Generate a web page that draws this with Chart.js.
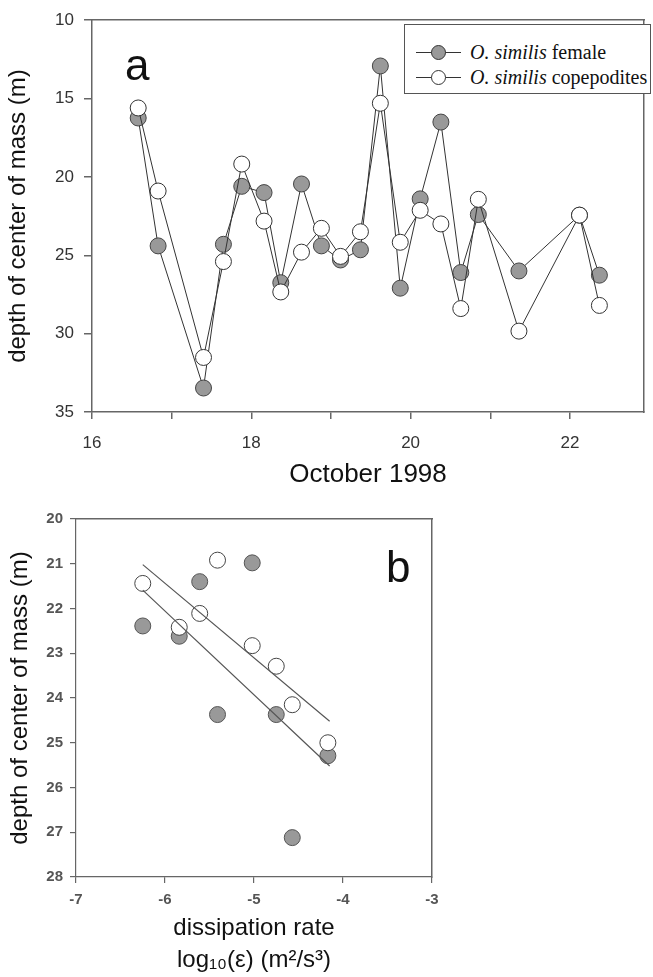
<!DOCTYPE html>
<html>
<head>
<meta charset="utf-8">
<script src="https://cdn.jsdelivr.net/npm/chart.js@4.4.0/dist/chart.umd.min.js"></script>
<style>
  body { margin: 0; background: #fff; width: 653px; height: 977px; position: relative; overflow: hidden;
         font-family: "Liberation Sans", Arial, sans-serif; }
  #wrapA { position: absolute; left: 0; top: 0; width: 653px; height: 500px; }
  #wrapB { position: absolute; left: 0; top: 500px; width: 653px; height: 477px; }
  .panel { position: absolute; font-size: 44px; line-height: 44px; color: #111; }
  #legend { position: absolute; left: 404px; top: 24px; width: 245px; height: 68px; border: 1.5px solid #555;
            background: #fff; font-family: "Liberation Serif", "Times New Roman", serif; font-size: 20px; color: #111; }
  .item { position: absolute; left: 0; width: 100%; height: 20px; }
  .ln { position: absolute; left: 11px; top: 9.5px; width: 45px; height: 1px; background: #333; }
  .dot { position: absolute; left: 26px; top: 2.5px; width: 13px; height: 13px; border-radius: 50%; border: 1px solid #333; }
  .txt { position: absolute; left: 65px; top: -2px; line-height: 24px; white-space: nowrap; }
</style>
</head>
<body>
<div id="wrapA"><canvas id="chartA" width="653" height="500"></canvas></div>
<div id="wrapB"><canvas id="chartB" width="653" height="477"></canvas></div>

<div class="panel" style="left:125px; top:43px;">a</div>
<div class="panel" style="left:386px; top:545px;">b</div>

<div id="legend">
  <div class="item" style="top:17px;"><span class="ln"></span><span class="dot" style="background:#999"></span><span class="txt"><i>O. similis</i> female</span></div>
  <div class="item" style="top:42px;"><span class="ln"></span><span class="dot" style="background:#fff"></span><span class="txt"><i>O. similis</i> copepodites</span></div>
</div>

<script>
// panel a: sampling times (day of October 1998) and depth of center of mass (m)
const days = [16.58, 16.83, 17.40, 17.65, 17.88, 18.16, 18.37, 18.63, 18.88, 19.12,
              19.37, 19.62, 19.87, 20.12, 20.38, 20.63, 20.85, 21.36, 22.12, 22.37];
const femaleDepth = [16.24, 24.4, 33.47, 24.3, 20.6, 21.0, 26.75, 20.45, 24.4, 25.3,
                     24.65, 12.92, 27.1, 21.4, 16.5, 26.1, 22.4, 26.0, 22.44, 26.27];
const copeDepth = [15.6, 20.9, 31.52, 25.4, 19.18, 22.82, 27.34, 24.8, 23.28, 25.07,
                   23.5, 15.3, 24.17, 22.13, 23.0, 28.4, 21.43, 29.84, 22.44, 28.2];
const dayTicks = [16, 17, 18, 19, 20, 21, 22];

// panel b: log10 dissipation rate vs depth
const logEps = [-6.25, -5.84, -5.61, -5.41, -5.02, -4.75, -4.57, -4.17];
const femaleB = [22.39, 22.62, 21.40, 24.37, 20.98, 24.37, 27.12, 25.29];
const copeB = [21.44, 22.42, 22.11, 20.92, 22.83, 23.29, 24.15, 25.0];
const fitX = [-6.25, -4.15];
const fitFemale = [21.59, 25.52];
const fitCope = [21.02, 24.52];

const axisCol = '#666';
const textCol = '#333';

function pts(xs, ys) {
  return xs.map((x, i) => ({ x: x, y: ys[i] }));
}

function frameAxis(pos, min, max, reverse) {
  return {
    type: 'linear', position: pos, min: min, max: max, reverse: !!reverse,
    ticks: { display: false }, grid: { display: false },
    border: { color: axisCol, width: 1.5 },
    afterFit: s => { if (pos === 'top') s.height = 0; else s.width = 0; }
  };
}

new Chart(document.getElementById('chartA'), {
  type: 'line',
  data: {
    datasets: [
      { label: 'O. similis copepodites', data: pts(days, copeDepth), order: 1,
        borderColor: '#333', borderWidth: 1, pointRadius: 8, pointBorderWidth: 1,
        pointBackgroundColor: '#fff', pointBorderColor: '#333', tension: 0 },
      { label: 'O. similis female', data: pts(days, femaleDepth), order: 2,
        borderColor: '#333', borderWidth: 1, pointRadius: 8, pointBorderWidth: 1,
        pointBackgroundColor: '#999', pointBorderColor: '#444', tension: 0 }
    ]
  },
  options: {
    responsive: false, animation: false,
    plugins: { legend: { display: false }, tooltip: { enabled: false } },
    layout: { padding: { top: 16, right: 1, left: 0, bottom: 0 } },
    scales: {
      x: {
        type: 'linear', min: 16, max: 22.93,
        afterBuildTicks: s => { s.ticks = dayTicks.map(v => ({ value: v })); },
        afterFit: s => { s.height = 88; },
        ticks: { callback: v => (v % 2 === 0 ? v : ''), font: { size: 17 }, color: textCol, padding: 14, maxRotation: 0, autoSkip: false },
        grid: { drawOnChartArea: false, tickLength: 7, color: axisCol, lineWidth: 1.5 },
        border: { color: axisCol, width: 1.5 },
        title: { display: true, text: 'October 1998', font: { size: 26 }, color: '#111', padding: { top: 0, bottom: 10 } }
      },
      xTop: frameAxis('top', 16, 22.93),
      y: {
        type: 'linear', reverse: true, min: 10, max: 35,
        afterFit: s => { s.width = 92; },
        ticks: { stepSize: 5, font: { size: 17 }, color: textCol, padding: 10 },
        grid: { drawOnChartArea: false, tickLength: 8, color: axisCol, lineWidth: 1.5 },
        border: { color: axisCol, width: 1.5 },
        title: { display: true, text: 'depth of center of mass (m)', font: { size: 24 }, color: '#111', padding: { top: 4, bottom: 0 } }
      },
      yRight: frameAxis('right', 10, 35, true)
    }
  }
});

new Chart(document.getElementById('chartB'), {
  type: 'scatter',
  data: {
    datasets: [
      { type: 'line', data: pts(fitX, fitCope), order: 0, showLine: true, pointRadius: 0,
        borderColor: '#555', borderWidth: 1.2 },
      { type: 'line', data: pts(fitX, fitFemale), order: 0, showLine: true, pointRadius: 0,
        borderColor: '#555', borderWidth: 1.2 },
      { label: 'copepodites', data: pts(logEps, copeB), order: 1, pointRadius: 8, pointBorderWidth: 1,
        pointBackgroundColor: '#fff', pointBorderColor: '#444' },
      { label: 'female', data: pts(logEps, femaleB), order: 2, pointRadius: 8, pointBorderWidth: 1,
        pointBackgroundColor: '#999', pointBorderColor: '#555' }
    ]
  },
  options: {
    responsive: false, animation: false,
    plugins: { legend: { display: false }, tooltip: { enabled: false } },
    layout: { padding: { top: 19, right: 221, left: 0, bottom: 0 } },
    scales: {
      x: {
        type: 'linear', min: -7, max: -3,
        afterFit: s => { s.height = 100; },
        ticks: { stepSize: 1, font: { size: 15, weight: 'bold' }, color: '#555', padding: 8, maxRotation: 0 },
        grid: { drawOnChartArea: false, tickLength: 6, color: axisCol, lineWidth: 1.2 },
        border: { color: axisCol, width: 1.2 },
        title: { display: true, text: ['dissipation rate', 'log\u2081\u2080(\u03b5) (m\u00b2/s\u00b3)'],
                 font: { size: 24, lineHeight: 1.35 }, color: '#111', padding: { top: 0, bottom: 0 } }
      },
      xTop: frameAxis('top', -7, -3),
      y: {
        type: 'linear', reverse: true, min: 20, max: 28,
        afterFit: s => { s.width = 76; },
        ticks: { stepSize: 1, font: { size: 15, weight: 'bold' }, color: '#555', padding: 7 },
        grid: { drawOnChartArea: false, tickLength: 6, color: axisCol, lineWidth: 1.2 },
        border: { color: axisCol, width: 1.2 },
        title: { display: true, text: 'depth of center of mass (m)', font: { size: 24 }, color: '#111', padding: { top: 6, bottom: 0 } }
      },
      yRight: frameAxis('right', 20, 28, true)
    }
  }
});
</script>
</body>
</html>
